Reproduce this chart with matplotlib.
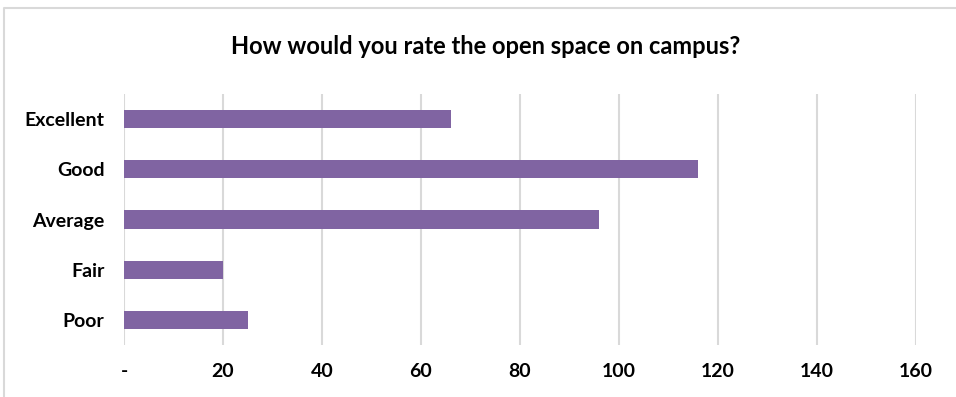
import matplotlib.pyplot as plt
from matplotlib.lines import Line2D

categories = ["Excellent", "Good", "Average", "Fair", "Poor"]
counts = [66, 116, 96, 20, 25]
xticks = [0, 20, 40, 60, 80, 100, 120, 140, 160]
xtick_labels = ["-", "20", "40", "60", "80", "100", "120", "140", "160"]

plt.rcParams['font.family'] = ['Lato', 'DejaVu Sans']

fig = plt.figure(figsize=(9.56, 3.97), dpi=100)
W, H = 956, 397
ax = fig.add_axes([124 / W, 1 - 345 / H, (916 - 124) / W, (345 - 94) / H])

ypos = list(range(len(categories)))
ax.barh(ypos, counts, height=0.36, color="#8064A2", zorder=3)
ax.set_ylim(len(categories) - 0.5, -0.5)
ax.set_xlim(0, 160)
ax.set_yticks(ypos)
ax.set_yticklabels(categories, fontsize=14, fontweight="bold")
ax.set_xticks(xticks)
ax.set_xticklabels(xtick_labels, fontsize=14, fontweight="bold")
ax.tick_params(length=0, pad=14, axis="y")
ax.tick_params(length=0, pad=13, axis="x")
ax.grid(axis="x", color="#D9D9D9", linewidth=1.5, zorder=0)
for s in ax.spines.values():
    s.set_visible(False)

fig.text(486 / W, 1 - 46 / H, "How would you rate the open space on campus?",
         ha="center", va="center", fontsize=17, fontweight="bold")

# chart area border (only top and left edges are visible in the crop)
fig.lines.append(Line2D([4 / W, 4 / W, 1], [0, 1 - 8 / H, 1 - 8 / H],
                        transform=fig.transFigure, color="#D9D9D9", linewidth=1.5))

fig.savefig("out.png", dpi=100)
